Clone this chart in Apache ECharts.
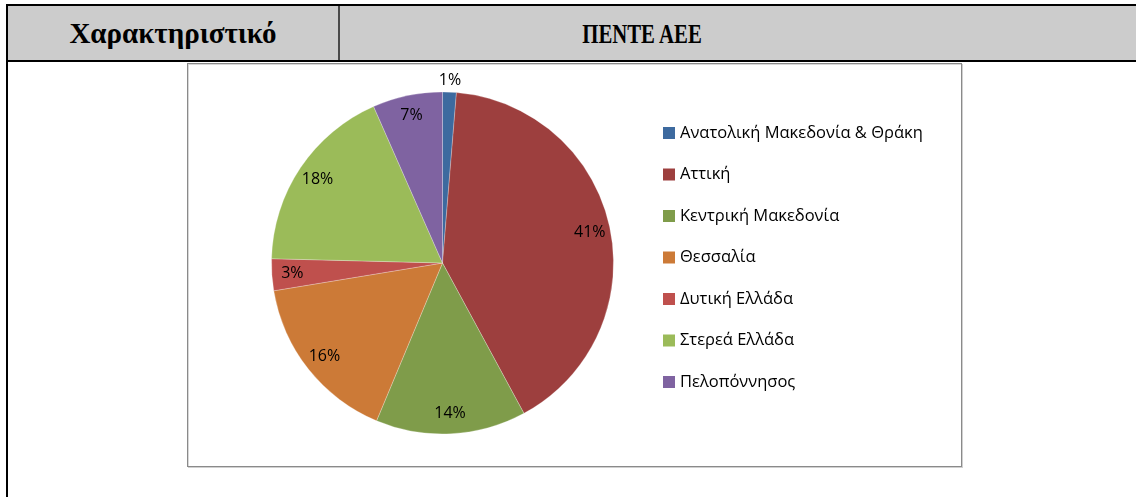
<!DOCTYPE html>
<html>
<head>
<meta charset="utf-8">
<script src="https://cdn.jsdelivr.net/npm/echarts@6/dist/echarts.min.js"></script>
<style>
  html, body { margin: 0; padding: 0; background: #fff; }
  body { width: 1136px; height: 497px; position: relative; overflow: hidden; }
  .abs { position: absolute; }
  .hdr { font-family: "Liberation Serif", "Times New Roman", serif; font-weight: bold; color: #000; white-space: nowrap; }
</style>
</head>
<body>
  <div class="abs" style="left:8px;top:6px;width:1128px;height:54px;background:#cccccc;"></div>
  <div class="abs" style="left:6px;top:4px;width:1130px;height:2px;background:#000;"></div>
  <div class="abs" style="left:6px;top:60px;width:1130px;height:2px;background:#000;"></div>
  <div class="abs" style="left:6px;top:4px;width:2px;height:493px;background:#000;"></div>
  <div class="abs" style="left:338px;top:6px;width:2px;height:54px;background:#4a4a4a;"></div>
  <div id="h1" class="abs hdr" style="left:8px;width:330px;top:14px;font-size:29px;text-align:center;line-height:38px;"></div>
  <div id="h2" class="abs hdr" style="left:442px;width:400px;top:15px;font-size:27px;text-align:center;line-height:38px;transform:scaleX(0.77);transform-origin:200px 50%;"></div>
  <div class="abs" style="left:187px;top:63px;width:773px;height:402px;border:1px solid #8a8a8a;box-shadow: inset 1px 1px 0 #d8d8d8, 1px 1px 0 #d0d0d0;"></div>
  <div id="chart" class="abs" style="left:0;top:0;width:1136px;height:497px;"></div>
<script>
const headerLeft = 'Χαρακτηριστικό';
const headerRight = 'ΠΕΝΤΕ ΑΕΕ';
const categories = ['Ανατολική Μακεδονία & Θράκη', 'Αττική', 'Κεντρική Μακεδονία', 'Θεσσαλία', 'Δυτική Ελλάδα', 'Στερεά Ελλάδα', 'Πελοπόννησος'];
const values = [1.3, 40.8, 14.2, 16.1, 3.0, 18.0, 6.6];
const colors = ['#3d6a9f', '#9d3f3e', '#7f9c4a', '#cc7a37', '#bf504d', '#9bbb59', '#7f63a1'];

document.getElementById('h1').textContent = headerLeft;
document.getElementById('h2').textContent = headerRight;

const font = '"Open Sans", "Noto Sans", sans-serif';
const cx = 442.5, cy = 263, R = 171;
const fmt = p => Math.round(p.percent) + '%';

const baseData = categories.map((n, i) => ({ name: n, value: values[i], itemStyle: { color: colors[i] } }));

const chart = echarts.init(document.getElementById('chart'), null, { renderer: 'canvas' });
chart.setOption({
  animation: false,
  backgroundColor: 'transparent',
  legend: {
    orient: 'vertical',
    left: 663,
    top: 124,
    padding: 0,
    itemWidth: 12,
    itemHeight: 12,
    itemGap: 23.5,
    icon: 'rect',
    selectedMode: false,
    data: categories,
    itemStyle: { borderWidth: 0 },
    textStyle: { fontFamily: font, fontSize: 16.5, color: '#000', lineHeight: 18 }
  },
  series: [
    {
      type: 'pie',
      center: [cx, cy],
      radius: [0, R],
      startAngle: 90,
      clockwise: true,
      silent: true,
      label: { show: false },
      labelLine: { show: false },
      itemStyle: { borderColor: 'rgba(255,255,255,0.5)', borderWidth: 0.5 },
      data: baseData
    },
    {
      type: 'pie',
      center: [cx, cy],
      radius: [124, R],
      startAngle: 90,
      clockwise: true,
      silent: true,
      legendHoverLink: false,
      itemStyle: { color: 'transparent', borderWidth: 0 },
      labelLine: { show: false },
      label: { show: true, position: 'inside', formatter: fmt, fontFamily: font, fontSize: 16, color: '#000' },
      data: categories.map((n, i) => ({ name: n, value: values[i], label: { show: i !== 0 } }))
    },
    {
      type: 'pie',
      center: [cx, cy],
      radius: [R, 188],
      startAngle: 90,
      clockwise: true,
      silent: true,
      legendHoverLink: false,
      itemStyle: { color: 'transparent', borderWidth: 0 },
      labelLine: { show: false },
      label: { show: true, position: 'inside', formatter: fmt, fontFamily: font, fontSize: 16, color: '#000' },
      data: categories.map((n, i) => ({ name: n, value: values[i], label: { show: i === 0 } }))
    }
  ]
});
</script>
</body>
</html>
